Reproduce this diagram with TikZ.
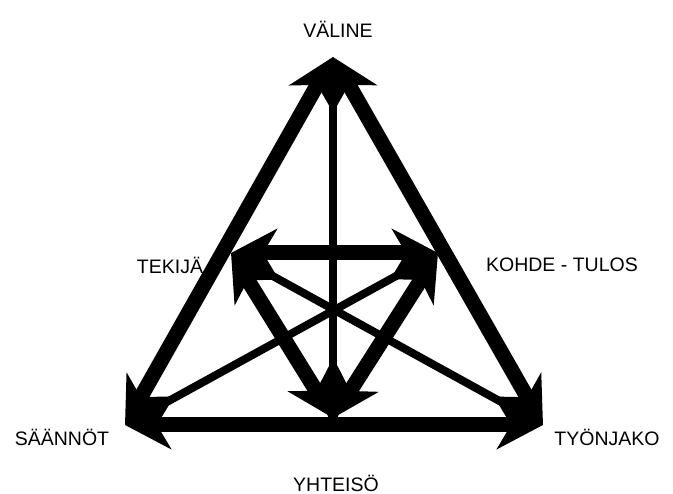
\documentclass[tikz,border=0pt]{standalone}
\usepackage{fontspec}
\setmainfont{Liberation Sans}
\usetikzlibrary{arrows.meta}
\begin{document}
\begin{tikzpicture}[x=1pt,y=-1pt]
  \tikzstyle{lab}=[font=\fontsize{19.5}{22}\selectfont, inner sep=0pt]
  \tikzstyle{paksu}=[line width=15pt, {Stealth[length=46pt,width=48pt,inset=14pt]}-{Stealth[length=46pt,width=48pt,inset=14pt]}]
  \tikzstyle{ohut}=[line width=8pt, {Stealth[length=26pt,width=22pt,inset=8pt]}-{Stealth[length=26pt,width=22pt,inset=8pt]}]

  \useasboundingbox (0,0) rectangle (673,494);

  % Kolmion kulmat ja sivujen keskipisteet, kuvan pikseleissa.
  \coordinate (valine) at (333,57);
  \coordinate (tekija) at (231,253);
  \coordinate (kohde) at (438,253);
  \coordinate (saannot) at (125,425);
  \coordinate (tyonjako) at (543,425);
  \coordinate (yhteiso) at (333,418);

  % Tekstit
  \node[lab] (lvaline) at (338,29) {VÄLINE};
  \node[lab] (ltekija) at (170,265) {TEKIJÄ};
  \node[lab] (lkohde) at (562,265) {KOHDE - TULOS};
  \node[lab] (lsaannot) at (62,437) {SÄÄNNÖT};
  \node[lab] (ltyonjako) at (607,437) {TYÖNJAKO};
  \node[lab] (lyhteiso) at (336,483) {YHTEISÖ};

  % Ohuet nuolet: pystysuora ja ristikkaiset
  \draw[ohut] (valine) -- ([yshift=-10pt]yhteiso);
  \draw[ohut] (tekija) -- (tyonjako);
  \draw[ohut] (kohde) -- (saannot);

  % Paksut nuolet: ulkokolmio ja sisakolmio
  \draw[paksu] (valine) -- (saannot);
  \draw[paksu] (valine) -- (tyonjako);
  \draw[paksu] (saannot) -- (tyonjako);
  \draw[paksu] (tekija) -- (kohde);
  \draw[paksu] (tekija) -- (yhteiso);
  \draw[paksu] (kohde) -- (yhteiso);
\end{tikzpicture}
\end{document}
